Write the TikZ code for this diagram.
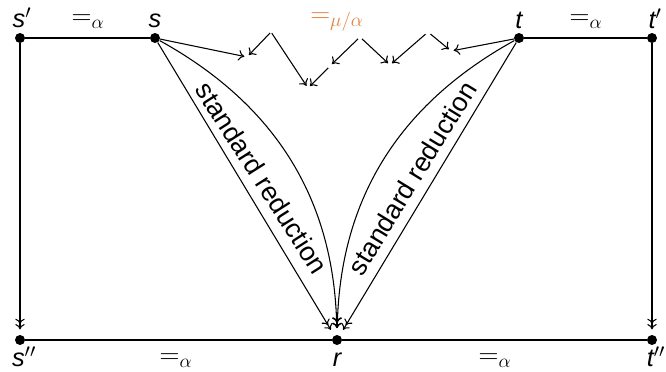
\documentclass[tikz,border=0pt]{standalone}
\usepackage{fontspec}
\setmainfont{Liberation Sans}
\usetikzlibrary{arrows.meta}
\definecolor{eqorange}{RGB}{226,128,64}
\begin{document}
\begin{tikzpicture}[x=0.75pt,y=-0.75pt,
  dot/.style={circle,fill=black,inner sep=0pt,minimum size=7.5pt},
  lbl/.style={font=\fontsize{19}{22}\selectfont\itshape,inner sep=0pt,anchor=base},
  eqa/.style={font=\fontsize{21}{24}\selectfont,inner sep=0pt,anchor=base},
  sred/.style={font=\fontsize{20}{24}\selectfont,inner sep=0pt},
  edge/.style={line width=0.8pt},
  sar/.style={edge,-{To[length=4.5pt,width=8pt]}},
  dar/.style={edge,-{To[length=4pt,width=7pt] To[length=4pt,width=7pt]}}
]
\useasboundingbox (0,0) rectangle (666,371);
% main nodes
\node[dot] (sp)  at (20,38)  {};
\node[dot] (s)   at (155,38) {};
\node[dot] (t)   at (519,38) {};
\node[dot] (tp)  at (652,38) {};
\node[dot] (spp) at (20,340) {};
\node[dot] (r)   at (337,340) {};
\node[dot] (tpp) at (652,340) {};
% labels
\node[lbl] (lsp)  at (22,27)   {s$'$};
\node[lbl] (ls)   at (155,27)  {s};
\node[lbl] (lt)   at (519,28)  {t};
\node[lbl] (ltp)  at (655,28)  {t$'$};
\node[lbl] (lspp) at (24,366)  {s$''$};
\node[lbl] (lr)   at (337,366) {r};
\node[lbl] (ltpp) at (656,366) {t$''$};
\node[eqa] (e1) at (88,24)  {$=_\alpha$};
\node[eqa] (e2) at (586,24) {$=_\alpha$};
\node[eqa] (e3) at (176,363) {$=_\alpha$};
\node[eqa] (e4) at (495,363) {$=_\alpha$};
\node[eqa,text=eqorange] (e5) at (337,22) {$=_{\mu/\alpha}$};
% frame
\draw[edge] (sp) -- (s);
\draw[edge] (t) -- (tp);
\draw[edge] (spp) -- (r) -- (tpp);
\draw[dar,shorten >=4pt] (sp) -- (spp);
\draw[dar,shorten >=4pt] (tp) -- (tpp);
% standard reductions
\draw[dar,shorten >=5pt] (s) -- (r);
\draw[dar,shorten >=5pt] (s) to[bend left=30] (r);
\draw[dar,shorten >=5pt] (t) -- (r);
\draw[dar,shorten >=5pt] (t) to[bend right=30] (r);
\node[sred,rotate=-57.5] (sr1) at (262,178) {standard reduction};
\node[sred,rotate=58.5] (sr2) at (412,178) {standard reduction};
% zigzag
\coordinate (A) at (247,57);
\coordinate (B) at (271,32);
\coordinate (C) at (308,88);
\coordinate (D) at (331,65);
\coordinate (E) at (360,37);
\coordinate (F) at (390,65);
\coordinate (G) at (428,32);
\coordinate (H) at (451,51);
\draw[sar,shorten >=2pt] (s) -- (A);
\draw[sar,shorten <=1pt,shorten >=2pt] (B) -- (A);
\draw[sar,shorten <=1pt,shorten >=2pt] (B) -- (C);
\draw[sar,shorten <=3pt,shorten >=2pt] (D) -- (C);
\draw[sar,shorten <=2pt,shorten >=1pt] (E) -- (D);
\draw[sar,shorten <=2pt,shorten >=2pt] (E) -- (F);
\draw[sar,shorten <=2.5pt,shorten >=2pt] (G) -- (F);
\draw[sar,shorten <=2.5pt,shorten >=2pt] (G) -- (H);
\draw[sar,shorten >=2pt] (t) -- (H);
\end{tikzpicture}
\end{document}
